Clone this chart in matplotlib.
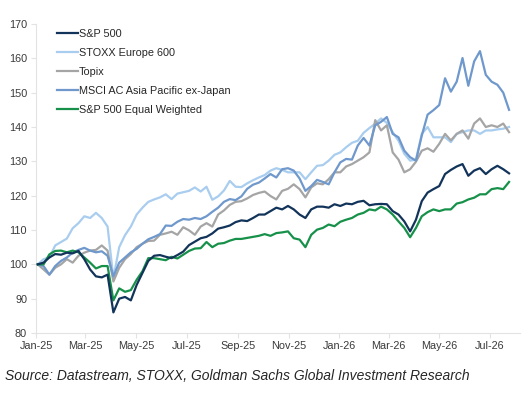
import numpy as np
import pandas as pd
import matplotlib
matplotlib.use("Agg")
import matplotlib.pyplot as plt
import matplotlib.dates as mdates

plt.rcParams['font.family'] = ['Liberation Sans', 'DejaVu Sans']

# weekly closes, rebased to 100 at start of Jan 2025
dates = pd.date_range('2025-01-03', periods=82, freq='W-FRI')

sp500 = [100, 100.5, 102, 103, 102.8, 103.4, 103.2, 103.9, 101.5, 98.5,
         96.5, 96.2, 97, 86, 90, 90.5, 89.5, 94, 97.5, 101,
         102.5, 102.7, 102.2, 101.8, 102.7, 103.7, 105.6, 106.6, 107.6, 108,
         109, 110.4, 110.8, 111.3, 112.3, 112.8, 112.6, 113.5, 114.5, 114.5,
         115.5, 116.5, 116, 117, 116, 114.5, 113.5, 116, 116.8, 116.8,
         116.5, 117.5, 117, 117.7, 117.5, 118.2, 118.5, 117.2, 117.5, 117.6,
         117.5, 115.5, 114.5, 112.5, 109.6, 113, 118.4, 120.9, 121.9, 122.8,
         126.3, 127.5, 128.5, 129.2, 125.8, 127.3, 128, 126.3, 127.7, 128.7,
         127.7, 126.5]

stoxx600 = [100, 101.5, 102, 105.5, 106.5, 107.5, 110.5, 112, 114, 113.5,
            115, 113.5, 111, 96, 105, 108.5, 111, 114.5, 116.5, 118.2,
            118.9, 119.5, 120.4, 119, 120.6, 121, 121.4, 122.4, 121.2, 122.6,
            118.8, 119.8, 121.5, 124.3, 122.6, 122.5, 123.6, 124.5, 125.3, 126,
            127.3, 128, 127.5, 126.8, 126.8, 126.8, 124.8, 126.8, 128.7, 128.9,
            130.2, 131.9, 132.6, 134.1, 135.4, 136, 138.3, 139.7, 141, 142.5,
            141.2, 138.5, 136, 132.2, 130.2, 130.5, 138, 140, 137, 137,
            137, 135.6, 138, 138.5, 139, 139, 138, 139, 139, 139.3,
            139.5, 140]

topix = [100, 98.5, 97, 99, 100, 101.5, 100.5, 102.5, 103.4, 104,
         104.2, 105.5, 104, 95, 99, 101.5, 103, 105, 106, 106.8,
         106.9, 108.6, 109, 109.5, 108.6, 110.8, 109.9, 108.6, 111, 112,
         111, 114.5, 115.7, 117.3, 118.2, 118.4, 119.2, 120.2, 120.8, 121.2,
         119.9, 118.9, 121.4, 122, 123.3, 121.9, 119.5, 122.4, 123.6, 123.3,
         124.8, 126.8, 126.8, 128.5, 129.2, 130.2, 131.2, 132.6, 142, 139,
         140.5, 132.6, 130.5, 126.8, 127.7, 129.9, 133.1, 133.8, 132.8, 135.1,
         138, 136.1, 138, 139, 136.6, 141, 142.5, 140, 140.5, 140,
         141, 138.5]

msci_apxj = [100, 99.5, 97, 99.5, 101, 102, 103.4, 104.2, 104.8, 104,
             103.5, 103.8, 102.5, 96.5, 100.5, 102, 103.5, 104.5, 106, 107.3,
             108, 108.8, 111.3, 111.2, 112.4, 113.2, 113, 113.5, 113.2, 114,
             115.3, 116.5, 118.2, 119, 118.7, 119.8, 122, 123.2, 123.8, 125,
             126.3, 125.3, 127.7, 128, 127.3, 125, 121.4, 122.8, 124.6, 124,
             123.3, 126.8, 129.7, 130.7, 130.5, 134.6, 136.8, 134.6, 140.5, 141.5,
             142.9, 138, 137, 133.1, 131.2, 130.2, 137.5, 143.6, 144.9, 146.4,
             154.2, 150.3, 153.2, 160.1, 152, 159.1, 162.1, 155.2, 153.2, 152.3,
             150, 145]

sp500_ew = [100, 100, 102.9, 103.9, 104, 103.5, 104, 103.5, 102, 100.5,
            98.8, 99.5, 99.5, 89.5, 93, 92, 92.5, 95.5, 98, 101.8,
            101.8, 101.5, 101.2, 102.2, 101.7, 102.8, 103.9, 104.6, 104.7, 106.5,
            105, 106, 106.2, 106.9, 107.4, 107.4, 107.7, 108, 108.3, 108.8,
            108.3, 109.1, 109.3, 109.6, 107.6, 107.2, 105, 108.6, 110.1, 110.6,
            111.6, 111.1, 112.4, 113, 113.5, 114.5, 115, 116, 115.7, 116.8,
            116, 114.5, 112.5, 110.6, 107.9, 110.6, 114, 115.2, 116, 115.5,
            116, 116, 117.7, 118.1, 118.9, 119.4, 120.4, 120.4, 121.9, 122.2,
            121.9, 124]

labels = ['S&P 500', 'STOXX Europe 600', 'Topix',
          'MSCI AC Asia Pacific ex-Japan', 'S&P 500 Equal Weighted']
series = [sp500, stoxx600, topix, msci_apxj, sp500_ew]
colors = ['#12345a', '#a9cdef', '#a5a5a5', '#6f98cc', '#17914a']
zorders = [5, 1, 2, 3, 4]

fig = plt.figure(figsize=(5.23, 4.0), dpi=100)
ax = fig.add_axes([0.069, 0.1675, 0.925, 0.7725])

for s, lab, c, z in zip(series, labels, colors, zorders):
    ax.plot(dates, s, color=c, lw=1.6, label=lab, zorder=z)

ax.set_ylim(80, 170)
ax.set_yticks(range(80, 171, 10))
ax.set_xlim(pd.Timestamp('2025-01-01'), pd.Timestamp('2026-08-06'))
ax.xaxis.set_major_locator(mdates.MonthLocator(bymonth=[1, 3, 5, 7, 9, 11]))
ax.xaxis.set_major_formatter(mdates.DateFormatter('%b-%y'))

for sp in ['top', 'right']:
    ax.spines[sp].set_visible(False)
for sp in ['left', 'bottom']:
    ax.spines[sp].set_color('#e3e3e3')
    ax.spines[sp].set_linewidth(0.8)
ax.tick_params(axis='both', colors='#e3e3e3', labelcolor='#3a3a3a',
               labelsize=7.8, length=3.5, width=0.8)
ax.tick_params(axis='y', pad=3)
ax.tick_params(axis='x', pad=2)

leg = ax.legend(loc='upper left', bbox_to_anchor=(0.043, 0.985), frameon=False,
                fontsize=7.8, handlelength=1.95, handletextpad=0.05,
                labelspacing=0.84, borderpad=0, borderaxespad=0)
for t in leg.get_texts():
    t.set_color('#262626')

fig.text(0.01, 0.06, 'Source: Datastream, STOXX, Goldman Sachs Global Investment Research',
         fontsize=10.0, style='italic', color='#262626', va='center')

fig.savefig('out.png', dpi=100)
